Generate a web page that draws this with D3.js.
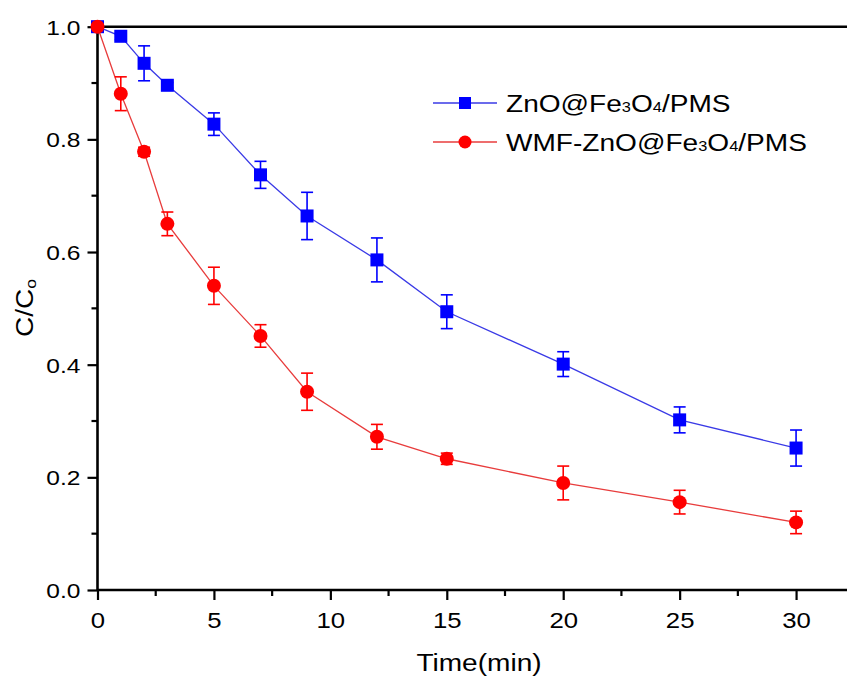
<!DOCTYPE html>
<html><head><meta charset="utf-8">
<script src="https://cdn.jsdelivr.net/npm/d3@7/dist/d3.min.js"></script>
<style>body{margin:0;background:#fff}svg{display:block}text{font-family:"Liberation Sans",Arial,sans-serif}</style>
</head><body>
<svg id="c" width="847" height="680"></svg>
<script>
const times = [0, 1, 2, 3, 5, 7, 9, 12, 15, 20, 25, 30];
const seriesNames = ["ZnO@Fe3O4/PMS", "WMF-ZnO@Fe3O4/PMS"];
const znoValues = [1.0, 0.983, 0.935, 0.896, 0.827, 0.737, 0.664, 0.586, 0.494, 0.401, 0.302, 0.252];
const znoErrors = [0.0, 0.006, 0.031, 0.005, 0.020, 0.024, 0.042, 0.039, 0.030, 0.022, 0.023, 0.032];
const wmfValues = [1.0, 0.881, 0.778, 0.650, 0.540, 0.451, 0.352, 0.272, 0.233, 0.190, 0.156, 0.120];
const wmfErrors = [0.0, 0.030, 0.008, 0.021, 0.033, 0.020, 0.033, 0.022, 0.010, 0.030, 0.021, 0.020];
const xTicks = [0, 5, 10, 15, 20, 25, 30];
const xMinorTicks = [2.5, 7.5, 12.5, 17.5, 22.5, 27.5];
const yTicks = [0.0, 0.2, 0.4, 0.6, 0.8, 1.0];
const yMinorTicks = [0.1, 0.3, 0.5, 0.7, 0.9];

const SX = 1.17;
const svg = d3.select("#c");
const x = d3.scaleLinear().domain([0, 32.2]).range([97.5, 847.3]);
const y = d3.scaleLinear().domain([0, 1]).range([590, 26.7]);

// top frame line
svg.append("line").attr("x1", x(0)).attr("x2", 847).attr("y1", y(1)).attr("y2", y(1))
  .attr("stroke", "#000").attr("stroke-width", 2.6);

// x axis
const xa = svg.append("g").attr("transform", `translate(0,${y(0)})`)
  .call(d3.axisBottom(x).tickValues(xTicks).tickSize(10).tickSizeOuter(0).tickFormat(d3.format("d")));
xa.append("g").selectAll("line").data(xMinorTicks).join("line")
  .attr("x1", d => x(d)).attr("x2", d => x(d)).attr("y1", 0).attr("y2", 6);
xa.select(".domain").attr("d", `M${x(0)},0H847`);
xa.selectAll("line").attr("stroke", "#000").attr("stroke-width", 2.2);
xa.select(".domain").attr("stroke", "#000").attr("stroke-width", 2.6);
xa.selectAll(".tick text").attr("font-size", 22).attr("fill", "#000").attr("y", 0).attr("dy", 0)
  .attr("transform", `translate(0,38) scale(${SX},1)`);

// y axis
const ya = svg.append("g").attr("transform", `translate(${x(0)},0)`)
  .call(d3.axisLeft(y).tickValues(yTicks).tickSize(10).tickSizeOuter(0).tickFormat(d3.format(".1f")));
ya.append("g").selectAll("line").data(yMinorTicks).join("line")
  .attr("x1", 0).attr("x2", -6).attr("y1", d => y(d)).attr("y2", d => y(d));
ya.select(".domain").attr("d", `M0,${y(0)}V${y(1)}`);
ya.selectAll("line").attr("stroke", "#000").attr("stroke-width", 2.2);
ya.select(".domain").attr("stroke", "#000").attr("stroke-width", 2.6);
ya.selectAll(".tick text").attr("font-size", 21).attr("fill", "#000").attr("x", 0).attr("dy", "0.35em")
  .attr("transform", `translate(-17,0) scale(${SX},1)`);

// axis titles
svg.append("text").attr("transform", `translate(479,671) scale(${SX},1)`).attr("text-anchor", "middle")
  .attr("font-size", 24).attr("fill", "#000").text("Time(min)");
const yt = svg.append("text").attr("transform", `translate(33,308) rotate(-90) scale(${SX},1)`)
  .attr("text-anchor", "middle").attr("font-size", 24).attr("fill", "#000");
yt.append("tspan").text("C/C");
yt.append("tspan").attr("font-size", 15).attr("dy", 3).text("o");

const series = [
  {name: seriesNames[0], vals: znoValues, errs: znoErrors, color: "#0000ff", line: "#3a3ae6", shape: "square"},
  {name: seriesNames[1], vals: wmfValues, errs: wmfErrors, color: "#ff0000", line: "#e83c3c", shape: "circle"}
];

const lineGen = d3.line().x(d => x(d[0])).y(d => y(d[1]));
series.forEach(s => {
  const pts = times.map((t, i) => [t, s.vals[i], s.errs[i]]);
  const g = svg.append("g");
  g.append("path").attr("d", lineGen(pts)).attr("fill", "none").attr("stroke", s.line).attr("stroke-width", 1.3);
  const eb = g.append("g").selectAll("g").data(pts.filter(p => p[2] > 0)).join("g")
    .attr("stroke", s.color).attr("stroke-width", 1.6);
  eb.append("line").attr("x1", d => x(d[0])).attr("x2", d => x(d[0])).attr("y1", d => y(d[1] - d[2])).attr("y2", d => y(d[1] + d[2]));
  eb.append("line").attr("x1", d => x(d[0]) - 6).attr("x2", d => x(d[0]) + 6).attr("y1", d => y(d[1] + d[2])).attr("y2", d => y(d[1] + d[2]));
  eb.append("line").attr("x1", d => x(d[0]) - 6).attr("x2", d => x(d[0]) + 6).attr("y1", d => y(d[1] - d[2])).attr("y2", d => y(d[1] - d[2]));
  if (s.shape === "square") {
    g.append("g").selectAll("rect").data(pts).join("rect")
      .attr("x", d => x(d[0]) - 6.5).attr("y", d => y(d[1]) - 6.5).attr("width", 13).attr("height", 13).attr("fill", s.color);
  } else {
    g.append("g").selectAll("circle").data(pts).join("circle")
      .attr("cx", d => x(d[0])).attr("cy", d => y(d[1])).attr("r", 7).attr("fill", s.color);
  }
});

// legend
const legY = [103, 142];
series.forEach((s, i) => {
  const lg = svg.append("g").attr("transform", `translate(0,${legY[i]})`);
  lg.append("line").attr("x1", 433).attr("x2", 497).attr("y1", 0).attr("y2", 0).attr("stroke", s.line).attr("stroke-width", 1.3);
  if (s.shape === "square") lg.append("rect").attr("x", 459).attr("y", -6).attr("width", 12).attr("height", 12).attr("fill", s.color);
  else lg.append("circle").attr("cx", 465).attr("cy", 0).attr("r", 6.5).attr("fill", s.color);
  const t = lg.append("text").attr("transform", `translate(506,8.5) scale(${SX},1)`).attr("font-size", 24).attr("fill", "#000");
  const m = s.name.match(/^(.*Fe)3O4(.*)$/);
  t.append("tspan").text(m[1]);
  t.append("tspan").attr("font-size", 14).text("3");
  t.append("tspan").text("O");
  t.append("tspan").attr("font-size", 14).text("4");
  t.append("tspan").text(m[2]);
});
</script>
</body></html>
